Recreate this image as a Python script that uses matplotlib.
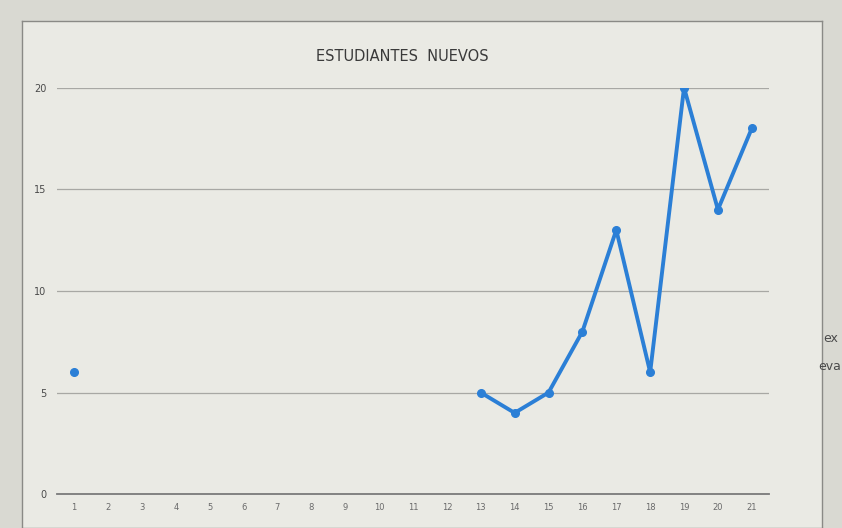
import numpy as np
import matplotlib.pyplot as plt

# data (gaps = no value)
dias = list(range(1, 22))
nuevos = [6, np.nan, np.nan, np.nan, np.nan, np.nan, np.nan, np.nan, np.nan,
          np.nan, np.nan, np.nan, 5, 4, 5, 8, 13, 6, 20, 14, 18]
yticks = [0, 5, 10, 15, 20]

fig = plt.figure(figsize=(8.42, 5.28), dpi=100)
fig.patch.set_facecolor('#d9d9d2')

# chart area background (the screen)
bg = fig.add_axes([0.026, 0.0, 0.95, 0.96])
bg.set_facecolor('#eaeae4')
bg.set_xticks([])
bg.set_yticks([])
for s in bg.spines.values():
    s.set_color('#8a8a86')
    s.set_linewidth(1.0)

ax = fig.add_axes([0.068, 0.064, 0.845, 0.77])
ax.set_facecolor('none')
ax.plot(dias, nuevos, color='#2b7fd6', linewidth=2.8,
        marker='o', markersize=5.5, markerfacecolor='#2b7fd6',
        markeredgecolor='#2b7fd6')

ax.set_xlim(0.5, 21.5)
ax.set_ylim(0, 20)
ax.set_xticks(dias)
ax.set_yticks(yticks)
ax.tick_params(axis='x', length=0, labelsize=6, labelcolor='#6a6a6a', pad=6)
ax.tick_params(axis='y', length=0, labelsize=7, labelcolor='#4a4a4a', pad=8)
ax.grid(axis='y', color='#a8a8a4', linewidth=0.9)
for side in ['top', 'right', 'left']:
    ax.spines[side].set_visible(False)
ax.spines['bottom'].set_color('#7a7a7a')
ax.spines['bottom'].set_linewidth(1.3)

fig.text(0.478, 0.893, 'ESTUDIANTES  NUEVOS', ha='center', va='center',
         fontsize=10.5, color='#3a3a3a')

# text at the edge of the screen, outside the chart
fig.text(0.978, 0.352, 'ex', fontsize=9, color='#4a4a4a')
fig.text(0.972, 0.3, 'eva', fontsize=9, color='#4a4a4a')

fig.savefig('out.png', dpi=100, facecolor=fig.get_facecolor())
